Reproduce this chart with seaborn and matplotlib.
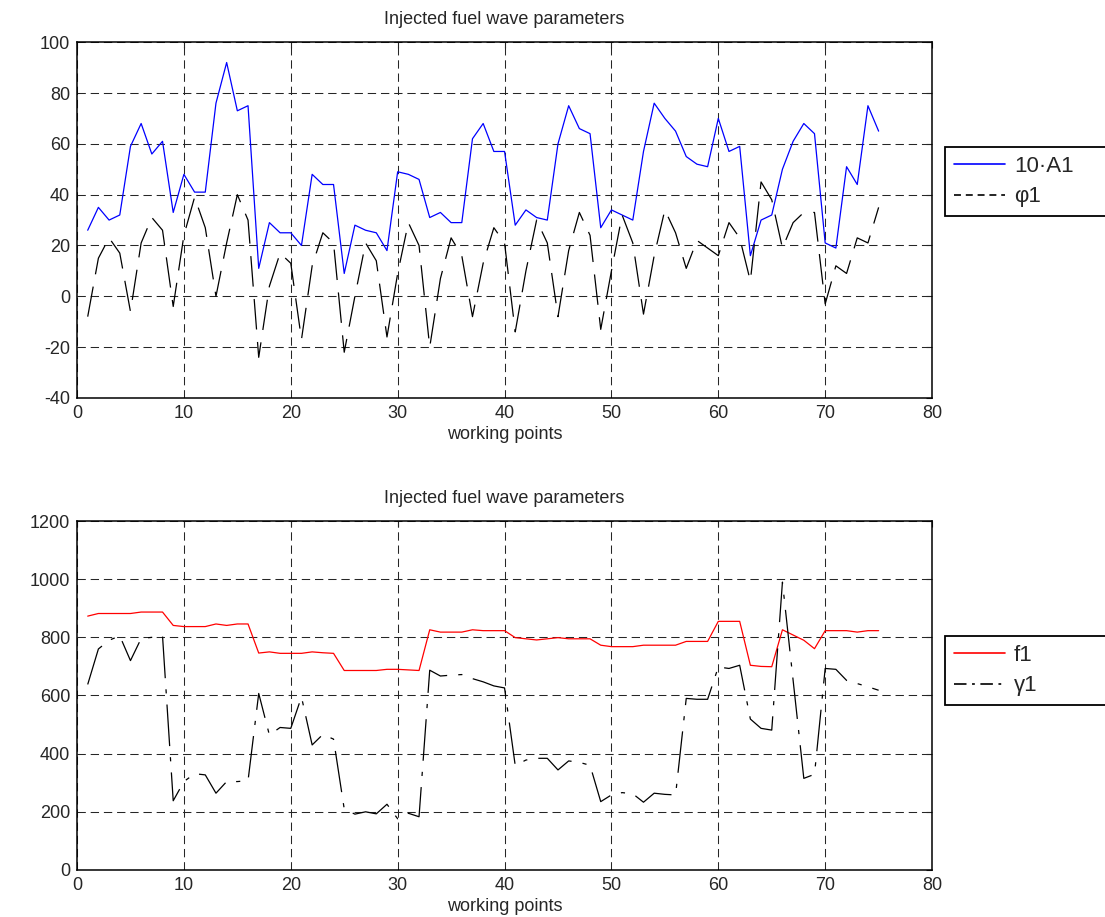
import matplotlib
matplotlib.use('Agg')
import matplotlib.pyplot as plt
from matplotlib.lines import Line2D
import seaborn as sns

sns.set_style('white')
plt.rcParams['font.family'] = ['Liberation Sans', 'DejaVu Sans']
plt.rcParams['lines.scale_dashes'] = False
plt.rcParams['axes.unicode_minus'] = False

# working points 1..75
working_points = list(range(1, 76))

# top panel: 10*A1 and phi1
amp_10A1 = [26, 35, 30, 32, 59, 68, 56, 61, 33, 48,
            41, 41, 76, 92, 73, 75, 11, 29, 25, 25,
            20, 48, 44, 44, 9, 28, 26, 25, 18, 49,
            48, 46, 31, 33, 29, 29, 62, 68, 57, 57,
            28, 34, 31, 30, 60, 75, 66, 64, 27, 34,
            32, 30, 57, 76, 70, 65, 55, 52, 51, 70,
            57, 59, 16, 30, 32, 50, 61, 68, 64, 21,
            19, 51, 44, 75, 65]
phase_phi1 = [-8, 15, 23, 17, -6, 21, 31, 26, -4, 24,
              39, 27, 0, 21, 40, 30, -24, 4, 17, 13,
              -17, 12, 25, 21, -22, 0, 21, 14, -16, 9,
              29, 20, -20, 7, 23, 16, -8, 13, 27, 21,
              -14, 10, 30, 21, -8, 18, 33, 24, -13, 10,
              32, 21, -7, 16, 34, 25, 11, 22, 19, 16,
              29, 23, 6, 45, 38, 19, 29, 33, 33, -3,
              12, 9, 23, 21, 35]

# bottom panel: f1 and gamma1
freq_f1 = [873, 882, 882, 882, 882, 887, 887, 887, 841, 837,
           837, 837, 846, 841, 846, 846, 746, 750, 745, 745,
           745, 750, 747, 745, 686, 686, 686, 686, 690, 690,
           688, 686, 826, 818, 818, 818, 826, 823, 823, 823,
           799, 795, 791, 795, 799, 795, 795, 795, 773, 768,
           768, 768, 773, 773, 773, 773, 786, 786, 786, 855,
           855, 855, 704, 700, 699, 826, 808, 790, 761, 823,
           823, 823, 818, 823, 823]
gamma1 = [638, 760, 790, 805, 720, 796, 800, 805, 238, 304,
          331, 327, 264, 304, 304, 307, 607, 464, 490, 487,
          595, 430, 466, 450, 210, 192, 200, 193, 226, 176,
          195, 183, 687, 667, 670, 672, 658, 647, 633, 626,
          359, 378, 384, 384, 344, 375, 370, 360, 235, 258,
          266, 262, 233, 264, 260, 258, 590, 587, 587, 698,
          693, 704, 519, 487, 481, 990, 652, 315, 329, 693,
          690, 652, 641, 630, 618]

DASH = (0, (22, 9))
DASHDOT = (0, (30, 8, 3, 8))

fig = plt.figure(figsize=(11.05, 9.17), dpi=100)
ax1 = fig.add_axes([0.0697, 0.566, 0.7738, 0.388])
ax2 = fig.add_axes([0.0697, 0.0513, 0.7738, 0.3805])

sns.lineplot(x=working_points, y=amp_10A1, ax=ax1, color='#0000ff', lw=0.9)
sns.lineplot(x=working_points, y=phase_phi1, ax=ax1, color='black', lw=0.9, linestyle=DASH)

sns.lineplot(x=working_points, y=freq_f1, ax=ax2, color='#ff0000', lw=0.9)
sns.lineplot(x=working_points, y=gamma1, ax=ax2, color='black', lw=0.9, linestyle=DASHDOT)

for ax in (ax1, ax2):
    ax.set_xlim(0, 80)
    ax.set_xticks(range(0, 81, 10))
    ax.grid(True, color='0.15', linestyle=(0, (6, 3.5)), lw=0.75)
    ax.tick_params(direction='in', top=True, right=True, length=4,
                   width=0.8, labelsize=13, pad=5)
    for s in ax.spines.values():
        s.set_color('black')
        s.set_linewidth(1.1)
    ax.set_title('Injected fuel wave parameters', fontsize=13, pad=13)
    ax.set_xlabel('working points', fontsize=13, labelpad=3)

ax1.set_ylim(-40, 100)
ax1.set_yticks(range(-40, 101, 20))
ax2.set_ylim(0, 1200)
ax2.set_yticks(range(0, 1201, 200))

top_handles = [Line2D([], [], color='#0000ff', lw=1.2),
               Line2D([], [], color='black', lw=1.2, linestyle=(0, (5, 3.5)))]
bot_handles = [Line2D([], [], color='#ff0000', lw=1.2),
               Line2D([], [], color='black', lw=1.2, linestyle=(0, (9, 4, 2, 4)))]

# legend box stretched so it runs off the right edge, like the original
leg_kw = dict(loc='upper left', mode='expand', fontsize=16, fancybox=False,
              framealpha=1, edgecolor='black', borderpad=0.4, labelspacing=0.42,
              handlelength=2.3, handletextpad=0.4, borderaxespad=0)
l1 = ax1.legend(top_handles, ['10·A1', 'φ1'], bbox_to_anchor=(1.015, 0.705, 0.2, 0), **leg_kw)
l2 = ax2.legend(bot_handles, ['f1', 'γ1'], bbox_to_anchor=(1.015, 0.670, 0.2, 0), **leg_kw)
for lg in (l1, l2):
    lg.get_frame().set_linewidth(1.3)

fig.savefig('out.png', dpi=100)
